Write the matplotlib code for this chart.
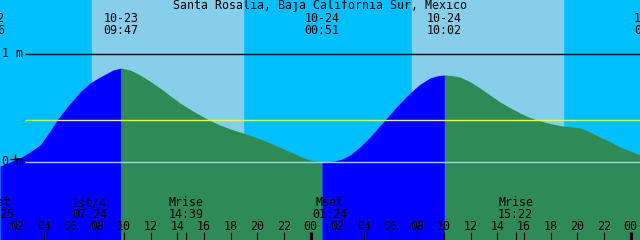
import numpy as np
import matplotlib
matplotlib.use("Agg")
import matplotlib.pyplot as plt
import matplotlib.transforms as mtransforms

# Tide height (m), hours counted from 10-23 00:00
hours = [0.70, 1.45, 2.20, 2.95, 3.70, 4.45, 4.98, 5.73, 6.70, 7.45, 8.20, 9.18, 9.78,
         10.50, 11.20, 12.00, 12.70, 13.45, 14.20, 15.00, 15.70, 16.45, 17.20, 18.00,
         18.93, 20.00, 20.95, 21.80, 22.68, 23.35, 23.95, 24.85,
         25.83, 26.40, 26.95, 27.70, 28.45, 29.00, 29.58, 30.50, 31.45, 32.20, 32.95,
         33.50, 34.03, 34.60, 35.20, 36.00, 36.70, 37.45, 38.20, 39.00, 39.70, 40.30,
         40.98, 42.00, 42.93, 43.60, 44.20, 45.00, 45.70, 46.50, 47.20, 48.00, 48.70]
height = [-0.037, 0.000, 0.037, 0.093, 0.157, 0.287, 0.389, 0.509, 0.648, 0.731, 0.787, 0.852, 0.870,
          0.850, 0.806, 0.745, 0.685, 0.615, 0.546, 0.485, 0.435, 0.385, 0.343, 0.305,
          0.269, 0.222, 0.176, 0.130, 0.083, 0.045, 0.019, 0.000,
          0.009, 0.030, 0.065, 0.140, 0.231, 0.310, 0.389, 0.520, 0.639, 0.720, 0.778,
          0.798, 0.806, 0.800, 0.787, 0.740, 0.685, 0.620, 0.556, 0.500, 0.454, 0.420,
          0.389, 0.355, 0.333, 0.325, 0.315, 0.275, 0.231, 0.185, 0.139, 0.100, 0.065]
turning_hours = [9.78, 24.85, 34.03]

sunrise = [7.60, 31.60]
sunset = [18.93, 42.93]
msl = 0.39

# tide events at top: (hour, date, time)
tide_hours = [-0.24, 9.78, 24.85, 34.03, 49.55]
tide_dates = ["10-22", "10-23", "10-24", "10-24", "10-25"]
tide_times = ["23:46", "09:47", "00:51", "10:02", "01:33"]

# moon events at bottom
moon_hours = [0.42, 7.40, 14.65, 25.40, 39.37]
moon_names = ["Mset", "1st/4", "Mrise", "Mset", "Mrise"]
moon_times = ["00:25", "07:24", "14:39", "01:24", "15:22"]

t0, t1 = 0.70, 48.70
ymin, ymax = -0.722, 1.5

fig = plt.figure(figsize=(6.4, 2.4), dpi=100)
ax = fig.add_axes([0, 0, 1, 1])
ax.set_xlim(t0, t1)
ax.set_ylim(ymin, ymax)
ax.axis("off")

# night / day background
ax.axvspan(t0, t1, color="#00BFFF", zorder=0)
for r, s in zip(sunrise, sunset):
    ax.axvspan(r, s, color="#87CEEB", zorder=0.5)

# tide fill: blue while rising, green while falling
t = np.array(hours)
h = np.array(height)
edges = [t0] + turning_hours + [t1]
for i in range(len(edges) - 1):
    m = (t >= edges[i]) & (t <= edges[i + 1])
    rising = h[m][-1] > h[m][0]
    ax.fill_between(t[m], h[m], ymin, color="#0000FF" if rising else "#2E8B57",
                    lw=0, zorder=1)

# reference lines
xstart = t0 + 25 / 640 * (t1 - t0)
ax.hlines(1.0, xstart, t1, color="black", lw=1, zorder=2)
ax.hlines(msl, xstart, t1, color="yellow", lw=1, zorder=2)
ax.hlines(0.0, xstart, t1, color="#9fd6f2", lw=1, zorder=2)

trans = mtransforms.blended_transform_factory(ax.transData, ax.transAxes)
font = dict(family="DejaVu Sans Mono", size=8.4, color="black")


def ypix(p):
    return 1 - p / 240


ax.text(0.5, ypix(9), "Santa Rosalia, Baja California Sur, Mexico",
        transform=ax.transAxes, ha="center", va="baseline", zorder=5, **font)

for th, d, tm in zip(tide_hours, tide_dates, tide_times):
    ax.text(th, ypix(22), d, transform=trans, ha="center", va="baseline", zorder=5, **font)
    ax.text(th, ypix(34), tm, transform=trans, ha="center", va="baseline", zorder=5, **font)

for mh, n, tm in zip(moon_hours, moon_names, moon_times):
    ax.text(mh, ypix(206), n, transform=trans, ha="center", va="baseline", zorder=5, **font)
    ax.text(mh, ypix(218), tm, transform=trans, ha="center", va="baseline", zorder=5, **font)
    ax.vlines(mh, ymin, ypix(232) * (ymax - ymin) + ymin, color="black", lw=0.8, zorder=4)

# hour ticks and labels
for hr in range(2, 49, 2):
    ax.text(hr, ypix(230), "%02d" % (hr % 24), transform=trans,
            ha="center", va="baseline", zorder=5, **font)
    lw = 2.2 if hr % 24 == 0 else 0.8
    ax.vlines(hr, ymin, ypix(232) * (ymax - ymin) + ymin, color="black", lw=lw, zorder=4)

# axis labels
ax.text(2 / 640, ypix(57), "1 m", transform=ax.transAxes, ha="left", va="baseline",
        zorder=5, **font)
ax.text(2 / 640, ypix(165), "0 m", transform=ax.transAxes, ha="left", va="baseline",
        zorder=5, **font)
ax.plot(t0 + 15 / 640 * (t1 - t0), (162 - 159) / 108, marker="+", color="black",
        ms=7, mew=1, zorder=5)

fig.savefig("out.png", dpi=100)
